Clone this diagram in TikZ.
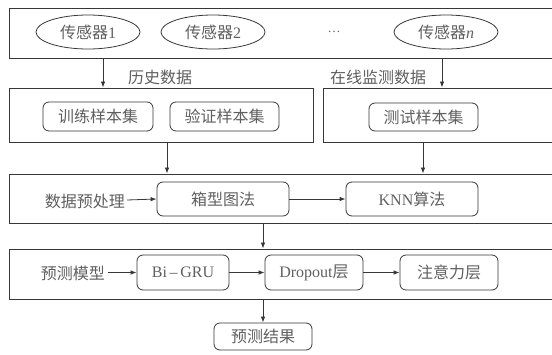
\documentclass[tikz,border=0pt]{standalone}
\usepackage{fontspec}
\setmainfont{Liberation Serif}
\newfontfamily\cjk{Noto Sans CJK SC}
\usetikzlibrary{shapes.geometric, arrows.meta, calc}

\definecolor{txtgray}{RGB}{95,95,95}
\definecolor{linegray}{RGB}{55,55,55}

\tikzset{
	layer/.style = {draw = linegray, line width = 0.9pt, inner sep = 0pt},
	sensor/.style = {ellipse, draw = linegray, line width = 0.8pt, inner sep = 0pt,
		minimum width = 104pt, minimum height = 34pt, text = txtgray},
	block/.style = {draw = linegray, line width = 0.8pt, rounded corners = 6pt, inner sep = 0pt,
		text = txtgray},
	lbl/.style = {text = txtgray, inner sep = 0pt},
	arr/.style = {-{Latex[length = 6pt, width = 4.5pt]}, draw = linegray, line width = 0.8pt}
}

\begin{document}
\begin{tikzpicture}[x = 1pt, y = -1pt, font = \fontsize{16}{18}\selectfont]
		\clip (0,0) rectangle (552,354);
		
		% layers
		\node [layer, minimum width = 560pt, minimum height = 50pt] (sensors) at (289,33) {};
		\node [layer, minimum width = 304pt, minimum height = 54pt] (trainbox) at (161,115) {};
		\node [layer, minimum width = 240pt, minimum height = 54pt] (testbox) at (443,115) {};
		\node [layer, minimum width = 560pt, minimum height = 49pt] (prebox) at (289,198.5) {};
		\node [layer, minimum width = 560pt, minimum height = 50pt] (modelbox) at (289,274) {};
		
		% sensors
		\node [sensor] (s1) at (88,32) {{\cjk 传感器}1};
		\node [sensor] (s2) at (213,32) {{\cjk 传感器}2};
		\node [lbl] (dots) at (334,32) {\fontsize{13}{15}\selectfont\ldots};
		\node [sensor] (sn) at (446,32) {{\cjk 传感器}\textit{n}};
		
		% sample sets
		\node [block, minimum width = 110pt, minimum height = 29pt] (train) at (98,116.5) {\cjk 训练样本集};
		\node [block, minimum width = 109pt, minimum height = 29pt] (valid) at (224.5,116.5) {\cjk 验证样本集};
		\node [block, minimum width = 109pt, minimum height = 28pt] (test) at (423.5,117) {\cjk 测试样本集};
		
		% preprocessing
		\node [lbl, anchor = east] (pre) at (125,201) {\cjk 数据预处理};
		\node [block, minimum width = 132pt, minimum height = 34pt] (boxplot) at (223,199) {\cjk 箱型图法};
		\node [block, minimum width = 132pt, minimum height = 34pt] (knn) at (412,199) {KNN{\cjk 算法}};
		
		% model
		\node [lbl, anchor = east] (model) at (105,273) {\cjk 预测模型};
		\node [block, minimum width = 92pt, minimum height = 35pt] (gru) at (183,272.5) {Bi\,--\,GRU};
		\node [block, minimum width = 98pt, minimum height = 35pt] (drop) at (314,272.5) {Dropout{\cjk 层}};
		\node [block, minimum width = 98pt, minimum height = 35pt] (att) at (449,272.5) {\cjk 注意力层};
		
		\node [block, minimum width = 98pt, minimum height = 27pt] (result) at (263,336.5) {\cjk 预测结果};
		
		% data labels
		\node [lbl] (hist) at (160,77) {\cjk 历史数据};
		\node [lbl] (online) at (378,77) {\cjk 在线监测数据};
		
		% connectors
		\coordinate (h) at (103,0);
		\coordinate (o) at (442,0);
		\coordinate (l) at (167,0);
		\coordinate (r) at (423,0);
		\coordinate (m) at (263,0);
		
		\draw [arr] (sensors.south -| h) -- (trainbox.north -| h);
		\draw [arr] (sensors.south -| o) -- (testbox.north -| o);
		\draw [arr] (trainbox.south -| l) -- (prebox.north -| l);
		\draw [arr] (testbox.south -| r) -- (prebox.north -| r);
		\draw [arr] (prebox.south -| m) -- (modelbox.north -| m);
		\draw [arr] (modelbox.south -| m) -- (result.north);
		
		\draw [arr] ($(pre.east) + (2,-1)$) -- (boxplot.west);
		\draw [arr] (boxplot.east) -- (knn.west);
		\draw [arr] ($(model.east) + (3,-0.5)$) -- (gru.west);
		\draw [arr] (gru.east) -- (drop.west);
		\draw [arr] (drop.east) -- (att.west);
	\end{tikzpicture}
\end{document}
